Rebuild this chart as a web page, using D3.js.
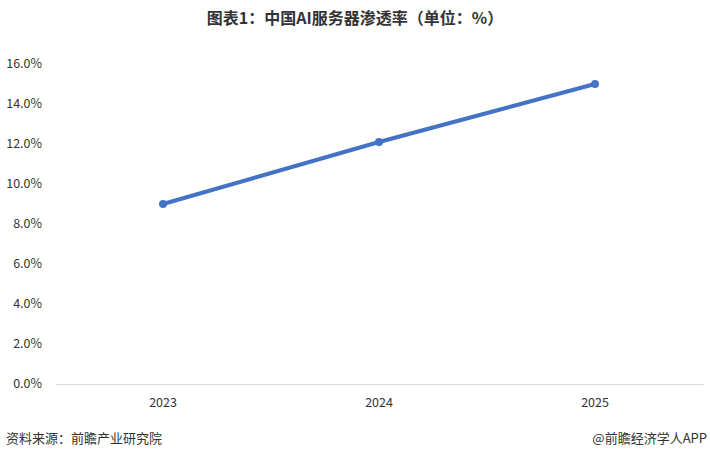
<!DOCTYPE html>
<html>
<head>
<meta charset="utf-8">
<script src="https://cdn.jsdelivr.net/npm/d3@7"></script>
<style>
  body { margin: 0; background: #fff; }
  text { font-family: "Noto Sans CJK SC", "Liberation Sans", sans-serif; }
</style>
</head>
<body>
<svg id="chart" width="710" height="460"></svg>
<script>
// chart data
var years = ["2023", "2024", "2025"];
var rates = [9.0, 12.1, 15.0];
var yTicks = [0, 2, 4, 6, 8, 10, 12, 14, 16];

var svg = d3.select("#chart"),
    width = +svg.attr("width"),
    height = +svg.attr("height");

var margin = {top: 64, right: 7, bottom: 76, left: 55};

var x = d3.scaleBand()
    .domain(years)
    .range([margin.left, width - margin.right]);

var y = d3.scaleLinear()
    .domain([0, 16])
    .range([height - margin.bottom, margin.top]);

// title
svg.append("text")
    .attr("x", width / 2)
    .attr("y", 24)
    .attr("text-anchor", "middle")
    .style("font-size", "16px")
    .style("font-weight", "bold")
    .style("fill", "#333")
    .text("图表1：中国AI服务器渗透率（单位：%）");

// y axis labels
svg.append("g")
    .selectAll("text")
    .data(yTicks)
    .enter()
    .append("text")
      .attr("x", 42)
      .attr("y", function(d){ return y(d) })
      .attr("dy", "0.35em")
      .attr("text-anchor", "end")
      .style("font-size", "12.5px")
      .style("fill", "#333")
      .text(function(d){ return d.toFixed(1) + "%" });

// x axis
var xAxis = svg.append("g")
    .attr("transform", "translate(0," + y(0) + ")")
    .call(d3.axisBottom(x).tickSize(0).tickPadding(14));
xAxis.select(".domain").attr("stroke", "#d9d9d9");
xAxis.selectAll("text")
    .style("font-size", "12.5px")
    .style("fill", "#333")
    .style("font-family", "\"Noto Sans CJK SC\", sans-serif");

// line
var line = d3.line()
    .x(function(d, i){ return x(years[i]) + x.bandwidth() / 2 })
    .y(function(d){ return y(d) });

svg.append("path")
    .datum(rates)
    .attr("fill", "none")
    .attr("stroke", "#4472C4")
    .attr("stroke-width", 4)
    .attr("stroke-linecap", "round")
    .attr("d", line);

svg.append("g")
    .selectAll("circle")
    .data(rates)
    .enter()
    .append("circle")
      .attr("cx", function(d, i){ return x(years[i]) + x.bandwidth() / 2 })
      .attr("cy", function(d){ return y(d) })
      .attr("r", 4)
      .attr("fill", "#4472C4");

// footer
svg.append("text")
    .attr("x", 6)
    .attr("y", 443)
    .style("font-size", "13px")
    .style("fill", "#333")
    .text("资料来源：前瞻产业研究院");

svg.append("text")
    .attr("x", 707)
    .attr("y", 443)
    .attr("text-anchor", "end")
    .style("font-size", "13px")
    .style("fill", "#333")
    .text("@前瞻经济学人APP");
</script>
</body>
</html>
